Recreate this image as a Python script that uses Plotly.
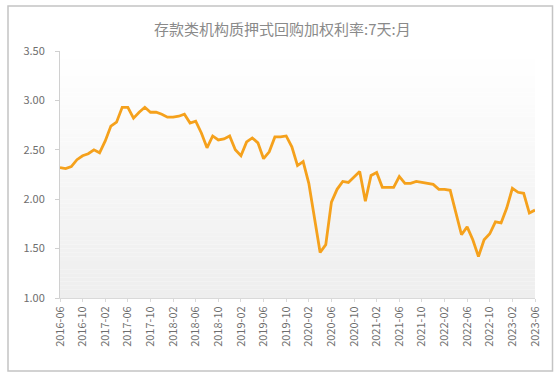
import plotly.graph_objects as go
import pandas as pd

# ---- data ----
months = pd.period_range("2016-06", "2023-06", freq="M").strftime("%Y-%m").tolist()
rate = [2.32, 2.31, 2.33, 2.40, 2.44, 2.46, 2.50, 2.47, 2.59, 2.74,
        2.78, 2.93, 2.93, 2.82, 2.88, 2.93, 2.88, 2.88, 2.86, 2.83,
        2.83, 2.84, 2.86, 2.77, 2.79, 2.67, 2.52, 2.64, 2.60, 2.61,
        2.64, 2.50, 2.44, 2.58, 2.62, 2.57, 2.41, 2.48, 2.63, 2.63,
        2.64, 2.53, 2.34, 2.38, 2.16, 1.82, 1.46, 1.54, 1.97, 2.10,
        2.18, 2.17, 2.22, 2.28, 1.98, 2.24, 2.27, 2.12, 2.12, 2.12,
        2.23, 2.16, 2.16, 2.18, 2.17, 2.16, 2.15, 2.10, 2.10, 2.09,
        1.86, 1.64, 1.72, 1.59, 1.42, 1.59, 1.65, 1.77, 1.76, 1.91,
        2.11, 2.07, 2.06, 1.86, 1.89]
tick_labels = months[::4]
y_ticks = [1.0, 1.5, 2.0, 2.5, 3.0, 3.5]
title = "存款类机构质押式回购加权利率:7天:月"

W, H = 557, 375
L, R, T, B = 60, 22, 51, 77

font = "Noto Sans CJK SC, Noto Sans, sans-serif"

fig = go.Figure()
fig.add_trace(go.Scatter(
    x=months, y=rate, mode="lines",
    line=dict(color="#F5A11C", width=2.8),
    hoverinfo="x+y", showlegend=False,
))

# gradient background of the plot area (style only)
shapes = []
n = 60
for k in range(n):
    t = k / (n - 1)
    c = int(round(255 - t * 17))
    shapes.append(dict(type="rect", xref="paper", yref="paper",
                       x0=0, x1=1, y0=1 - (k + 1) / n, y1=1 - k / n,
                       fillcolor=f"rgb({c},{c},{c})", line=dict(width=0),
                       layer="below"))

# outer frame
pw, ph = W - L - R, H - T - B
shapes.append(dict(type="rect", xref="paper", yref="paper",
                   x0=(8 - L) / pw, x1=(552.5 - L) / pw,
                   y0=(H - B - 371) / ph, y1=(H - B - 6) / ph,
                   line=dict(color="#c4c4c4", width=1.5), fillcolor="rgba(0,0,0,0)",
                   layer="above"))

fig.update_layout(
    width=W, height=H,
    margin=dict(l=L, r=R, t=T, b=B),
    paper_bgcolor="white", plot_bgcolor="white",
    font=dict(family=font, color="#666666", size=11),
    title=dict(text=title, x=0.507, xanchor="center", y=1 - 30 / H, yanchor="middle",
               font=dict(family=font, size=15, color="#8a8a8a")),
    shapes=shapes,
    xaxis=dict(type="category", range=[0, len(months) - 1],
               tickmode="array", tickvals=tick_labels, ticktext=tick_labels,
               tickangle=-90, showgrid=False, zeroline=False,
               showline=True, linecolor="#d9d9d9", linewidth=1,
               ticks="outside", ticklen=3, tickcolor="#d9d9d9",
               tickfont=dict(size=11, color="#6e6e6e")),
    yaxis=dict(range=[1.0, 3.5], tickvals=y_ticks,
               ticktext=[f"{v:.2f}" for v in y_ticks],
               showgrid=False, zeroline=False,
               showline=True, linecolor="#d0d0d0", linewidth=1,
               ticks="outside", ticklen=4, tickcolor="#d0d0d0",
               ticklabelstandoff=8,
               tickfont=dict(size=11, color="#6e6e6e")),
)

fig.write_html("out.html")
